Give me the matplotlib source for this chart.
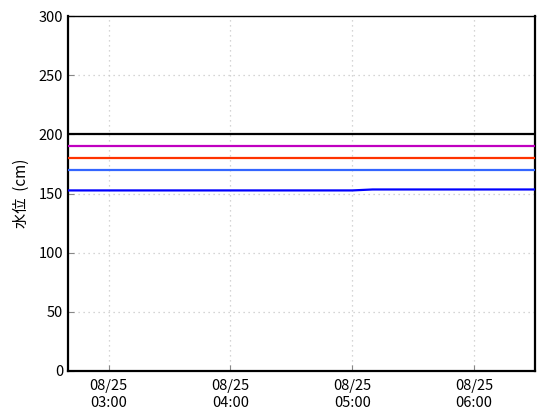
import numpy as np
import pandas as pd
import matplotlib
matplotlib.use("Agg")
import matplotlib.pyplot as plt
import matplotlib.dates as mdates

plt.rcParams['font.family'] = ['Noto Sans CJK JP', 'DejaVu Sans']

# --- data -------------------------------------------------------------------
times = pd.date_range("2024-08-25 02:40", "2024-08-25 06:30", freq="10min")
level = [152.6, 152.6, 152.6, 152.6, 152.6, 152.6, 152.6, 152.6, 152.6,
         152.6, 152.6, 152.6, 152.6, 152.6, 152.6, 153.4, 153.4, 153.4,
         153.4, 153.4, 153.4, 153.4, 153.4, 153.4]

thresholds = [200, 190, 180, 170]
thr_colors = ["#000000", "#c000c0", "#ff3300", "#3366ff"]

# --- figure -----------------------------------------------------------------
fig = plt.figure(figsize=(5.6, 4.2), dpi=100)
ax = fig.add_axes([68 / 560, 49 / 420, 467 / 560, 355 / 420])

for val, col in zip(thresholds, thr_colors):
    ax.axhline(val, color=col, lw=1.6, zorder=3)
ax.plot(times, level[:len(times)], color="#0000ff", lw=1.6, zorder=4)

ax.set_xlim(pd.Timestamp("2024-08-25 02:40"), pd.Timestamp("2024-08-25 06:30"))
ax.set_ylim(0, 300)
ax.set_yticks(np.arange(0, 301, 50))
ax.xaxis.set_major_locator(mdates.HourLocator())
ax.xaxis.set_major_formatter(mdates.DateFormatter("%m/%d\n%H:%M"))

ax.grid(True, color="#c8c8c8", ls=(0, (1, 3)), lw=0.9)
ax.tick_params(direction="in", length=4, labelsize=10.5, color="#888888",
               top=False, right=False)
ax.tick_params(axis="x", pad=6)
for s in ax.spines.values():
    s.set_linewidth(1.0)
ax.spines["left"].set_linewidth(1.6)
ax.spines["bottom"].set_linewidth(1.6)
ax.spines["right"].set_linewidth(1.6)

ax.set_ylabel("水位  (cm)", fontsize=11, labelpad=6)

fig.savefig("out.png", dpi=100)
